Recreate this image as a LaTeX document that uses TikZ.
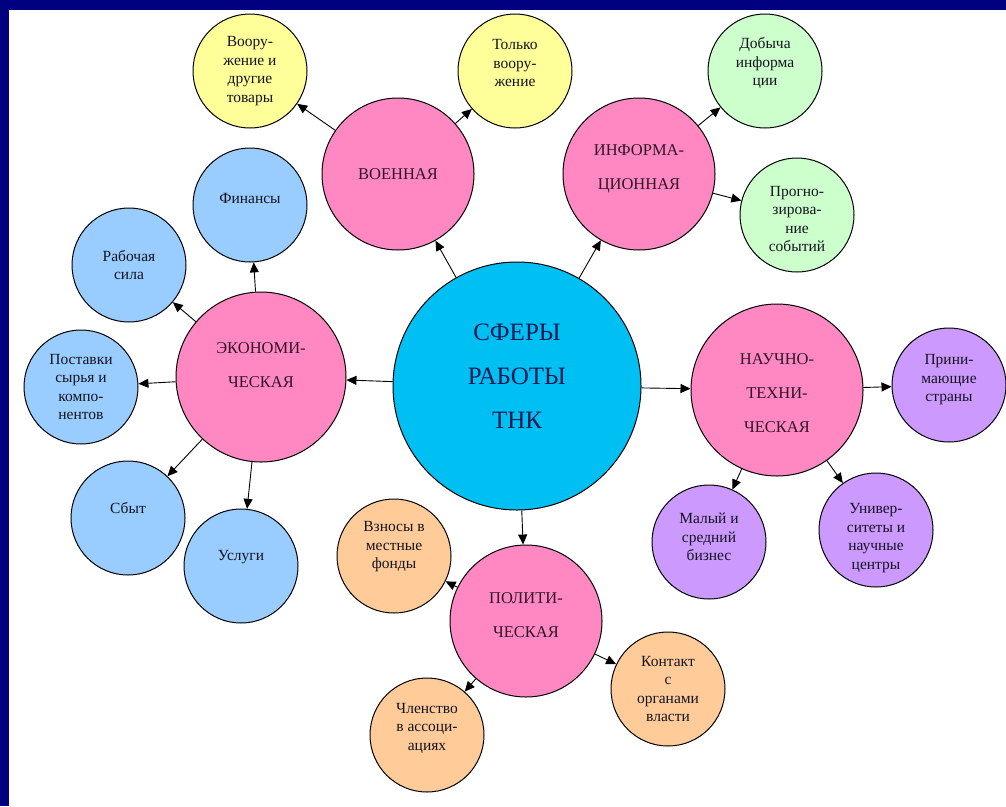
\documentclass[tikz,border=0pt]{standalone}
\usepackage{fontspec}
\setmainfont{Liberation Serif}
\usetikzlibrary{arrows.meta}
\definecolor{navyC}{HTML}{000080}
\definecolor{cyanC}{HTML}{00BFF3}
\definecolor{pinkC}{HTML}{FF88C2}
\definecolor{yelC}{HTML}{FFFF99}
\definecolor{grnC}{HTML}{CCFFCC}
\definecolor{bluC}{HTML}{99CCFF}
\definecolor{orgC}{HTML}{FFCC99}
\definecolor{purC}{HTML}{CC99FF}
\definecolor{txtC}{HTML}{141420}
\definecolor{txtP}{HTML}{301428}
\definecolor{txtB}{HTML}{0A1A50}
\tikzset{
  sph/.style={circle,draw=black,line width=1pt,inner sep=0pt},
  leaf/.style={sph,minimum size=114pt},
  mid/.style={sph,fill=pinkC},
  ltxt/.style={align=center,font=\fontsize{15.5}{18.5}\selectfont,text=txtC,inner sep=0pt},
  mtxt/.style={align=center,font=\fontsize{16.5}{34}\selectfont,text=txtP,inner sep=0pt},
  ctxt/.style={align=center,font=\fontsize{25}{44}\selectfont,text=txtB,inner sep=0pt},
  conn/.style={draw=black,line width=0.9pt,-{Triangle[length=10pt,width=9pt]}},
}
\begin{document}
\begin{tikzpicture}[x=1pt,y=-1pt]
\useasboundingbox (0,0) rectangle (1006,806);
\fill[white] (0,0) rectangle (1006,806);
\fill[navyC] (0,0) rectangle (1006,10);
\fill[navyC] (0,0) rectangle (9,806);

% centre
\node[sph,fill=cyanC,minimum size=248pt,label={[ctxt,yshift=10pt]center:СФЕРЫ\\РАБОТЫ\\ТНК}] (C) at (517,386) {};

% spheres
\node[mid,minimum size=152pt,label={[mtxt]center:ВОЕННАЯ}] (V) at (398,174) {};
\node[mid,minimum size=152pt,label={[mtxt,yshift=5pt]center:ИНФОРМА-\\ЦИОННАЯ}] (I) at (639,174) {};
\node[mid,minimum size=170pt,label={[mtxt,yshift=12pt]center:ЭКОНОМИ-\\ЧЕСКАЯ}] (E) at (261,377) {};
\node[mid,minimum size=172pt,label={[mtxt,yshift=-3pt]center:НАУЧНО-\\ТЕХНИ-\\ЧЕСКАЯ}] (N) at (777,390) {};
\node[mid,minimum size=152pt,label={[mtxt,yshift=6pt]center:ПОЛИТИ-\\ЧЕСКАЯ}] (P) at (526,621) {};

% military
\node[leaf,fill=yelC,label={[ltxt]center:Воору-\\жение и\\другие\\товары}] (vo) at (250,71) {};
\node[leaf,fill=yelC,label={[ltxt,yshift=8pt]center:Только\\воору-\\жение}] (to) at (515,71) {};
% information
\node[leaf,fill=grnC,label={[ltxt,yshift=8pt]center:Добыча\\информа\\ции}] (do) at (765,71) {};
\node[leaf,fill=grnC,label={[ltxt,yshift=-4pt]center:Прогно-\\зирова-\\ние\\событий}] (pr) at (797,215) {};
% economic
\node[leaf,fill=bluC,label={[ltxt,yshift=7pt]center:Финансы}] (fi) at (250,205) {};
\node[leaf,fill=bluC,label={[ltxt]center:Рабочая\\сила}] (ra) at (129,265) {};
\node[leaf,fill=bluC,label={[ltxt]center:Поставки\\сырья и\\компо-\\нентов}] (po) at (81,387) {};
\node[leaf,fill=bluC,label={[ltxt,yshift=10pt]center:Сбыт}] (sb) at (128,518) {};
\node[leaf,fill=bluC,label={[ltxt,yshift=9pt]center:Услуги}] (us) at (241,566) {};
% political
\node[leaf,fill=orgC,label={[ltxt,yshift=9pt]center:Взносы в\\местные\\фонды}] (vz) at (394,556) {};
\node[leaf,fill=orgC,label={[ltxt,yshift=7pt]center:Членство\\в ассоци-\\ациях}] (ch) at (427,735) {};
\node[leaf,fill=orgC,label={[ltxt]center:Контакт\\с\\органами\\власти}] (ko) at (668,689) {};
% scientific
\node[leaf,fill=purC,label={[ltxt,yshift=5pt]center:Прини-\\мающие\\страны}] (pn) at (949,385) {};
\node[leaf,fill=purC,label={[ltxt,yshift=5pt]center:Малый и\\средний\\бизнес}] (ma) at (709,542) {};
\node[leaf,fill=purC,label={[ltxt,yshift=-8pt]center:Универ-\\ситеты и\\научные\\центры}] (un) at (876,530) {};

% connectors
\draw[conn] (C) -- (V);
\draw[conn] (C) -- (I);
\draw[conn] (C) -- (E);
\draw[conn] (C) -- (N);
\draw[conn] (C) -- (P);
\draw[conn] (V) -- (vo);
\draw[conn] (V) -- (to);
\draw[conn] (I) -- (do);
\draw[conn] (I) -- (pr);
\draw[conn] (E) -- (fi);
\draw[conn] (E) -- (ra);
\draw[conn] (E) -- (po);
\draw[conn] (E) -- (sb);
\draw[conn] (E) -- (us);
\draw[conn] (N) -- (pn);
\draw[conn] (N) -- (ma);
\draw[conn] (N) -- (un);
\draw[conn] (P) -- (vz);
\draw[conn] (P) -- (ko);
\draw[conn] (P) -- (ch);
\end{tikzpicture}
\end{document}
